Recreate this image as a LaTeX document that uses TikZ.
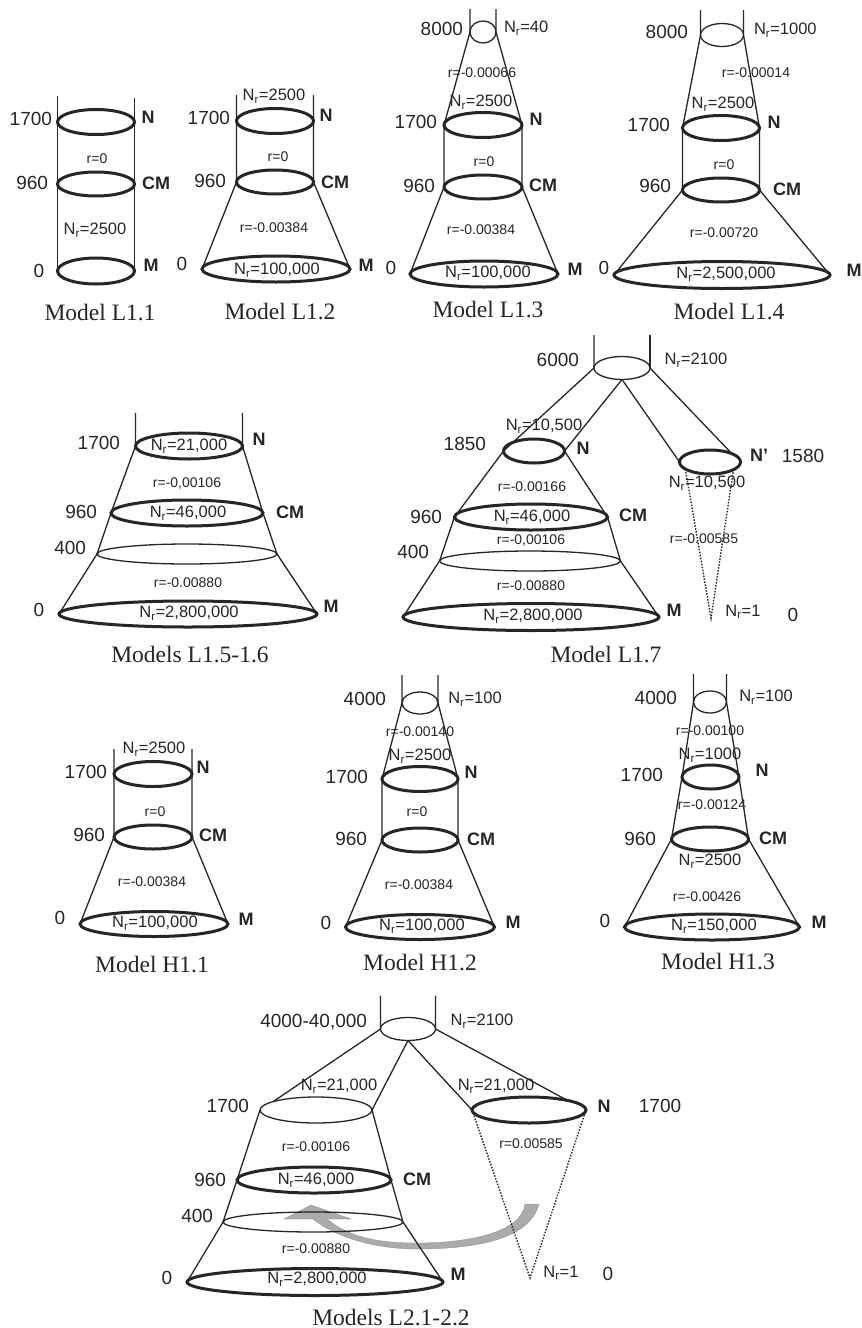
\documentclass[tikz,border=0pt]{standalone}
\usepackage{fontspec}
\setmainfont{Liberation Sans}
\newfontfamily\capfont{Liberation Serif}
\usetikzlibrary{shapes.geometric}
\definecolor{ink}{HTML}{262626}
\definecolor{arrowgray}{HTML}{ABABAB}
\tikzset{
  thickring/.style={draw=ink,shape=ellipse,line width=3pt,inner sep=0pt,outer sep=0pt},
  thinring/.style={draw=ink,shape=ellipse,line width=1.3pt,inner sep=0pt,outer sep=0pt},
  conn/.style={draw=ink,line width=1.3pt},
  dotconn/.style={draw=ink,line width=1.4pt,dash pattern=on 1.5pt off 1.5pt},
  lab/.style={inner sep=0pt,outer sep=0pt,text=ink},
  num/.style={lab,font=\fontsize{19}{19}\selectfont},
  numr/.style={num,anchor=east},
  nr/.style={lab,font=\fontsize{16.5}{17}\selectfont},
  rr/.style={lab,font=\fontsize{14}{14}\selectfont},
  big/.style={lab,font=\fontsize{18}{18}\selectfont\bfseries},
  captext/.style={lab,font=\fontsize{23.5}{24}\capfont}
}
\newcommand{\ringnode}[5]{\node[#2,minimum width=#4pt,minimum height=#5pt] (#1) at (#3) {};}
\newcommand{\lbltxt}[4]{\node[#2] (#1) at (#3) {#4};}
\newcommand{\Nr}[1]{N\textsubscript{r}=#1}
\begin{document}
\begin{tikzpicture}[x=1pt,y=-1pt]
\useasboundingbox (0,0) rectangle (862,1328);
\fill[white] (0,0) rectangle (862,1328);

% ---- L2 arrow (beneath the lines)
\fill[arrowgray,draw=arrowgray!80!black,line width=0.3pt]
  (525,1204) .. controls (522,1232) and (470,1243) .. (417,1243)
  .. controls (380,1243) and (350,1238) .. (327,1219)
  -- (351,1219) -- (311,1205) -- (284,1219) -- (313,1219)
  .. controls (340,1240) and (380,1249) .. (417,1249)
  .. controls (480,1249) and (530,1238) .. (539,1204) -- cycle;

% ---- Model L1.1
\ringnode{aN}{thickring}{96,122}{77}{25}
\ringnode{aC}{thickring}{96,184}{77}{24}
\ringnode{aM}{thickring}{96,271}{77}{26}
\draw[conn] (aN.west) ++(0,-26) -- (aN.west) -- (aC.west) -- (aM.west);
\draw[conn] (aN.east) ++(0,-24) -- (aN.east) -- (aC.east) -- (aM.east);
\lbltxt{a1}{numr}{52,119}{1700}
\lbltxt{a2}{numr}{48,183}{960}
\lbltxt{a3}{num}{39,271}{0}
\lbltxt{a4}{big}{148,117}{N}
\lbltxt{a5}{big}{156,183}{CM}
\lbltxt{a6}{big}{151,265}{M}
\lbltxt{a7}{rr}{97,159}{r=0}
\lbltxt{a8}{nr}{95,230}{\Nr{2500}}
\lbltxt{a9}{captext}{100,313}{Model L1.1}

% ---- Model L1.2
\ringnode{bN}{thickring}{275,121}{77}{25}
\ringnode{bC}{thickring}{275,182}{77}{24}
\ringnode{bM}{thickring}{276,269}{148}{26}
\draw[conn] (bN.west) ++(0,-26) -- (bN.west) -- (bC.west) -- (bM.west);
\draw[conn] (bN.east) ++(0,-26) -- (bN.east) -- (bC.east) -- (bM.east);
\lbltxt{b1}{numr}{230,118}{1700}
\lbltxt{b2}{numr}{226,181}{960}
\lbltxt{b3}{num}{182,264}{0}
\lbltxt{b4}{big}{326,115}{N}
\lbltxt{b5}{big}{335,182}{CM}
\lbltxt{b6}{big}{366,265}{M}
\lbltxt{b7}{rr}{278,157}{r=0}
\lbltxt{b8}{rr}{274,228}{r=-0.00384}
\lbltxt{b9}{nr}{274,96}{\Nr{2500}}
\lbltxt{b10}{nr}{277,270}{\Nr{100,000}}
\lbltxt{b11}{captext}{280,312}{Model L1.2}

% ---- Model L1.3
\ringnode{cT}{thinring}{483,32}{26}{22}
\ringnode{cN}{thickring}{483,125}{78}{25}
\ringnode{cC}{thickring}{483,187}{78}{24}
\ringnode{cM}{thickring}{484,274}{148}{26}
\draw[conn] (cT.west) ++(0,-23) -- (cT.west) -- (cN.west) -- (cC.west) -- (cM.west);
\draw[conn] (cT.east) ++(0,-23) -- (cT.east) -- (cN.east) -- (cC.east) -- (cM.east);
\lbltxt{c1}{numr}{463,29}{8000}
\lbltxt{c2}{nr,anchor=west}{504,28}{\Nr{40}}
\lbltxt{c3}{rr}{482,73}{r=-0.00066}
\lbltxt{c4}{nr}{481,102}{\Nr{2500}}
\lbltxt{c5}{numr}{437,122}{1700}
\lbltxt{c6}{big}{536,119}{N}
\lbltxt{c7}{rr}{484,162}{r=0}
\lbltxt{c8}{numr}{435,186}{960}
\lbltxt{c9}{big}{543,185}{CM}
\lbltxt{c10}{rr}{481,230}{r=-0.00384}
\lbltxt{c11}{num}{391,268}{0}
\lbltxt{c12}{nr}{488,273}{\Nr{100,000}}
\lbltxt{c13}{big}{575,269}{M}
\lbltxt{c14}{captext}{488,310}{Model L1.3}

% ---- Model L1.4
\ringnode{dT}{thinring}{722,35}{43}{23}
\ringnode{dN}{thickring}{721,128}{77}{25}
\ringnode{dC}{thickring}{721,190}{77}{24}
\ringnode{dM}{thickring}{722,275}{216}{27}
\draw[conn] (dT.west) ++(0,-25) -- (dT.west) -- (dN.west) -- (dC.west) -- (dM.west);
\draw[conn] (dT.east) ++(0,-25) -- (dT.east) -- (dN.east) -- (dC.east) -- (dM.east);
\lbltxt{d1}{numr}{688,32}{8000}
\lbltxt{d2}{nr,anchor=west}{754,30}{\Nr{1000}}
\lbltxt{d3}{rr}{756,73}{r=-0.00014}
\lbltxt{d4}{nr}{723,104}{\Nr{2500}}
\lbltxt{d5}{numr}{670,125}{1700}
\lbltxt{d6}{big}{774,122}{N}
\lbltxt{d7}{rr}{724,165}{r=0}
\lbltxt{d8}{numr}{671,186}{960}
\lbltxt{d9}{big}{787,189}{CM}
\lbltxt{d10}{rr}{724,233}{r=-0.00720}
\lbltxt{d11}{num}{604,268}{0}
\lbltxt{d12}{nr}{726,274}{\Nr{2,500,000}}
\lbltxt{d13}{big}{854,270}{M}
\lbltxt{d14}{captext}{729,312}{Model L1.4}

% ---- Models L1.5-1.6
\ringnode{eN}{thickring}{189,446}{107}{26}
\ringnode{eC}{thickring}{187,513}{152}{26}
\ringnode{eF}{thinring}{187,554}{180}{20}
\ringnode{eM}{thickring}{188,614}{258}{26}
\draw[conn] (eN.west) ++(0,-33) -- (eN.west) -- (eC.west) -- (eF.west) -- (eM.west);
\draw[conn] (eN.east) ++(0,-33) -- (eN.east) -- (eC.east) -- (eF.east) -- (eM.east);
\lbltxt{e1}{numr}{120,443}{1700}
\lbltxt{e2}{numr}{97,512}{960}
\lbltxt{e3}{numr}{86,548}{400}
\lbltxt{e4}{num}{39,610}{0}
\lbltxt{e5}{big}{259,439}{N}
\lbltxt{e6}{big}{290,512}{CM}
\lbltxt{e7}{big}{331,606}{M}
\lbltxt{e8}{nr}{189,446}{\Nr{21,000}}
\lbltxt{e9}{rr}{187,484}{r=-0,00106}
\lbltxt{e10}{nr}{188,513}{\Nr{46,000}}
\lbltxt{e11}{rr}{188,583}{r=-0.00880}
\lbltxt{e12}{nr}{189,613}{\Nr{2,800,000}}
\lbltxt{e13}{captext}{190,655}{Models L1.5-1.6}

% ---- Model L1.7
\ringnode{fT}{thinring}{622,368}{56}{23}
\ringnode{fN}{thickring}{534,451}{61}{24}
\ringnode{fP}{thickring}{710,462}{61}{24}
\ringnode{fC}{thickring}{531,517}{153}{26}
\ringnode{fF}{thinring}{530,561}{181}{20}
\ringnode{fM}{thickring}{531,617}{256}{27}
\coordinate (fA) at (711,618);
\draw[conn] (fT.west) ++(0,-33) -- (fT.west) -- (fN.west) -- (fC.west) -- (fF.west) -- (fM.west);
\draw[conn] (fT.east) ++(0,-33) -- (fT.east);
\draw[conn] (fT.south) -- (fN.east) -- (fC.east) -- (fF.east) -- (fM.east);
\draw[conn] (fT.south) -- (fP.west);
\draw[conn] (fT.east) -- (fP.21);
\draw[dotconn] (fP.-164) -- (fA) -- (fP.-18);
\lbltxt{f1}{numr}{579,360}{6000}
\lbltxt{f2}{nr}{696,360}{\Nr{2100}}
\lbltxt{f3}{nr}{544,426}{\Nr{10,500}}
\lbltxt{f4}{numr}{486,444}{1850}
\lbltxt{f5}{big}{583,448}{N}
\lbltxt{f6}{big}{759,455}{N’}
\lbltxt{f7}{num}{803,456}{1580}
\lbltxt{f8}{nr}{707,483}{\Nr{10,500}}
\lbltxt{f9}{rr}{532,487}{r=-0.00166}
\lbltxt{f10}{nr}{532,517}{\Nr{46,000}}
\lbltxt{f11}{big}{633,515}{CM}
\lbltxt{f12}{numr}{442,517}{960}
\lbltxt{f13}{rr}{531,541}{r=-0,00106}
\lbltxt{f14}{numr}{429,552}{400}
\lbltxt{f15}{rr}{704,539}{r=-0.00585}
\lbltxt{f16}{rr}{531,586}{r=-0.00880}
\lbltxt{f17}{nr}{533,616}{\Nr{2,800,000}}
\lbltxt{f18}{big}{674,610}{M}
\lbltxt{f19}{nr}{743,612}{\Nr{1}}
\lbltxt{f20}{num}{793,615}{0}
\lbltxt{f21}{captext}{606,655}{Model L1.7}

% ---- Model H1.1
\ringnode{gN}{thickring}{153,774}{78}{25}
\ringnode{gC}{thickring}{153,837}{78}{24}
\ringnode{gM}{thickring}{154,924}{148}{25}
\draw[conn] (gN.west) ++(0,-25) -- (gN.west) -- (gC.west) -- (gM.west);
\draw[conn] (gN.east) ++(0,-25) -- (gN.east) -- (gC.east) -- (gM.east);
\lbltxt{g1}{nr}{154,749}{\Nr{2500}}
\lbltxt{g2}{numr}{107,772}{1700}
\lbltxt{g3}{big}{203,767}{N}
\lbltxt{g4}{rr}{155,812}{r=0}
\lbltxt{g5}{numr}{105,835}{960}
\lbltxt{g6}{big}{213,835}{CM}
\lbltxt{g7}{rr}{152,882}{r=-0.00384}
\lbltxt{g8}{num}{60,918}{0}
\lbltxt{g9}{nr}{155,923}{\Nr{100,000}}
\lbltxt{g10}{big}{246,919}{M}
\lbltxt{g11}{captext}{152,965}{Model H1.1}

% ---- Model H1.2
\ringnode{hT}{thinring}{420,703}{36}{22}
\ringnode{hN}{thickring}{420,779}{76}{25}
\ringnode{hC}{thickring}{420,840}{76}{24}
\ringnode{hM}{thickring}{420,927}{149}{25}
\draw[conn] (hT.west) ++(0,-28) -- (hT.west) -- (hN.west) -- (hC.west) -- (hM.west);
\draw[conn] (hT.east) ++(0,-28) -- (hT.east) -- (hN.east) -- (hC.east) -- (hM.east);
\lbltxt{h1}{numr}{386,699}{4000}
\lbltxt{h2}{nr}{475,699}{\Nr{100}}
\lbltxt{h3}{rr}{420,732}{r=-0.00140}
\lbltxt{h4}{nr}{420,756}{\Nr{2500}}
\lbltxt{h5}{numr}{368,777}{1700}
\lbltxt{h6}{big}{471,772}{N}
\lbltxt{h7}{rr}{417,812}{r=0}
\lbltxt{h8}{numr}{367,839}{960}
\lbltxt{h9}{big}{481,839}{CM}
\lbltxt{h10}{rr}{419,885}{r=-0.00384}
\lbltxt{h11}{num}{326,923}{0}
\lbltxt{h12}{nr}{422,926}{\Nr{100,000}}
\lbltxt{h13}{big}{513,922}{M}
\lbltxt{h14}{captext}{420,963}{Model H1.2}

% ---- Model H1.3
\ringnode{iT}{thinring}{710,702}{33}{22}
\ringnode{iN}{thickring}{710.5,777}{57}{24}
\ringnode{iC}{thickring}{710,839}{77}{24}
\ringnode{iM}{thickring}{712,927}{175}{26}
\draw[conn] (iT.west) ++(0,-28) -- (iT.west) -- (iN.west) -- (iC.west) -- (iM.west);
\draw[conn] (iT.east) ++(0,-28) -- (iT.east) -- (iN.east) -- (iC.east) -- (iM.east);
\lbltxt{i1}{numr}{677,698}{4000}
\lbltxt{i2}{nr}{766,697}{\Nr{100}}
\lbltxt{i3}{rr}{710,731}{r=-0.00100}
\lbltxt{i4}{nr}{710,755}{\Nr{1000}}
\lbltxt{i5}{numr}{663,775}{1700}
\lbltxt{i6}{big}{762,770}{N}
\lbltxt{i7}{rr}{712,805}{r=-0.00124}
\lbltxt{i8}{numr}{656,839}{960}
\lbltxt{i9}{big}{773,838}{CM}
\lbltxt{i10}{nr}{710,861}{\Nr{2500}}
\lbltxt{i11}{rr}{707,897}{r=-0.00426}
\lbltxt{i12}{num}{605,921}{0}
\lbltxt{i13}{nr}{714,926}{\Nr{150,000}}
\lbltxt{i14}{big}{819,922}{M}
\lbltxt{i15}{captext}{718,962}{Model H1.3}

% ---- Models L2.1-2.2
\ringnode{jT}{thinring}{408,1029}{55}{23}
\ringnode{jL}{thinring}{316,1110}{112}{26}
\ringnode{jN}{thickring}{529,1110}{114}{26}
\ringnode{jC}{thickring}{314,1180}{154}{26}
\ringnode{jF}{thinring}{313,1222}{180}{20}
\ringnode{jM}{thickring}{315,1282}{256}{27}
\coordinate (jA) at (530,1278);
\draw[conn] (jT.west) ++(0,-33) -- (jT.west) -- (jL.169);
\draw[conn] (jT.east) ++(0,-33) -- (jT.east) -- (jN.14);
\draw[conn] (jT.south) -- (jL.east) -- (jC.east) -- (jF.east) -- (jM.east);
\draw[conn] (jT.south) -- (jN.west);
\draw[conn] (jL.west) -- (jC.west) -- (jF.west) -- (jM.west);
\draw[dotconn] (jN.west) -- (jA) -- (jN.east);
\lbltxt{j1}{numr}{367,1022}{4000-40,000}
\lbltxt{j2}{nr}{482,1021}{\Nr{2100}}
\lbltxt{j3}{nr}{339,1086}{\Nr{21,000}}
\lbltxt{j4}{nr}{496,1086}{\Nr{21,000}}
\lbltxt{j5}{numr}{249,1106}{1700}
\lbltxt{j6}{big}{604,1106}{N}
\lbltxt{j7}{num}{660,1106}{1700}
\lbltxt{j8}{rr}{316,1147}{r=-0.00106}
\lbltxt{j9}{rr}{531,1144}{r=0.00585}
\lbltxt{j10}{numr}{226,1180}{960}
\lbltxt{j11}{nr}{316,1180}{\Nr{46,000}}
\lbltxt{j12}{big}{417,1179}{CM}
\lbltxt{j13}{numr}{213,1216}{400}
\lbltxt{j14}{rr}{316,1249}{r=-0.00880}
\lbltxt{j15}{num}{167,1278}{0}
\lbltxt{j16}{nr}{317,1279}{\Nr{2,800,000}}
\lbltxt{j17}{big}{458,1274}{M}
\lbltxt{j18}{nr}{561,1273}{\Nr{1}}
\lbltxt{j19}{num}{608,1274}{0}
\lbltxt{j20}{captext}{391,1317}{Models L2.1-2.2}
\end{tikzpicture}
\end{document}
